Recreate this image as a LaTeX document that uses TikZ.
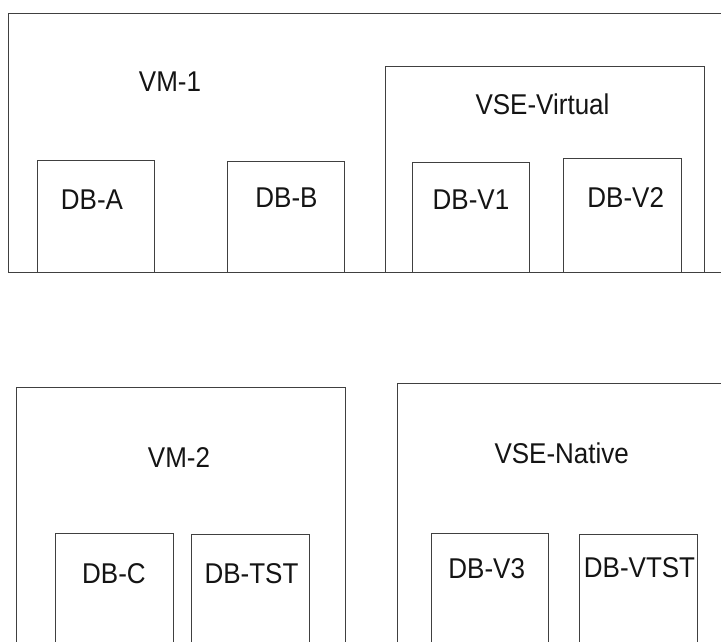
\documentclass[tikz,border=0pt]{standalone}
\usepackage{fontspec}
\setmainfont{Liberation Sans}
\newcommand{\tallt}[1]{\scalebox{1}[1.1]{#1}}
\begin{document}
\begin{tikzpicture}[x=1pt,y=-1pt,
  frame/.style={draw=black!75, line width=1pt},
  box/.style={frame, rectangle, inner sep=0pt, anchor=north west},
  lbl/.style={text=black!92, inner sep=0pt, font=\fontsize{26}{30}\selectfont}]
\useasboundingbox (0,0) rectangle (721,641);
\clip (0,0) rectangle (721,641);
% VM-1 outer frame (open at right)
\coordinate (vmtr) at (725,13);
\coordinate (vmbr) at (725,272);
\draw[frame] (vmtr) -- (8,13) -- (8,272) -- (vmbr);
\node[lbl] (vm1) at (170,82) {\tallt{VM-1}};
\node[box, minimum width=117.5pt, minimum height=112pt] (dba) at (36.7,160) {};
\node[lbl] (tdba) at (92,200) {\tallt{DB-A}};
\node[box, minimum width=117.5pt, minimum height=111pt] (dbb) at (226.8,161) {};
\node[lbl] (tdbb) at (286.5,198) {\tallt{DB-B}};
% VSE-Virtual
\node[box, minimum width=318.8pt, minimum height=206pt] (vsev) at (384.7,66) {};
\node[lbl] (tvsev) at (542.5,104) {\tallt{VSE-Virtual}};
\node[box, minimum width=117.6pt, minimum height=110pt] (dbv1) at (411.7,162) {};
\node[lbl] (tdbv1) at (471,200) {\tallt{DB-V1}};
\node[box, minimum width=118pt, minimum height=114pt] (dbv2) at (562.7,158) {};
\node[lbl] (tdbv2) at (625.7,198) {\tallt{DB-V2}};
% VM-2
\node[box, minimum width=329.3pt, minimum height=280pt] (vm2) at (15.7,386.7) {};
\node[lbl] (tvm2) at (179,458) {\tallt{VM-2}};
\node[box, minimum width=117.7pt, minimum height=130pt] (dbc) at (55,533.3) {};
\node[lbl] (tdbc) at (114,574) {\tallt{DB-C}};
\node[box, minimum width=118pt, minimum height=130pt] (dbtst) at (191.3,534.3) {};
\node[lbl] (tdbtst) at (251.5,574) {\tallt{DB-TST}};
% VSE-Native
\node[box, minimum width=360pt, minimum height=300pt] (vsen) at (397.3,382.7) {};
\node[lbl] (tvsen) at (561.7,453.5) {\tallt{VSE-Native}};
\node[box, minimum width=117.6pt, minimum height=130pt] (dbv3) at (430.7,533.3) {};
\node[lbl] (tdbv3) at (486.7,569) {\tallt{DB-V3}};
\node[box, minimum width=117.4pt, minimum height=130pt] (dbvtst) at (579.3,534) {};
\node[lbl] (tdbvtst) at (639.5,568) {\tallt{DB-VTST}};
\end{tikzpicture}
\end{document}
